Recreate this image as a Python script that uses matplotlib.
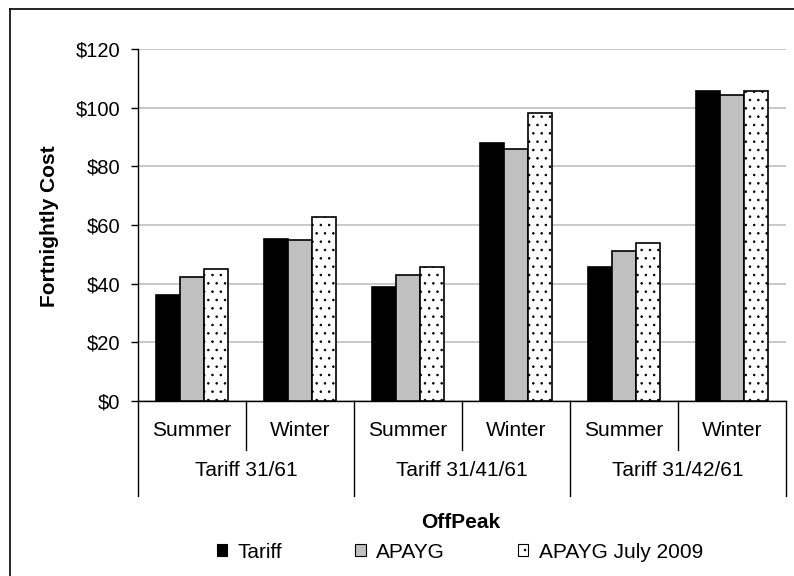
import matplotlib.pyplot as plt
import matplotlib.patches as mpatches
from matplotlib.lines import Line2D
import numpy as np

plt.rcParams['font.family'] = ['Liberation Sans', 'DejaVu Sans']
plt.rcParams['hatch.color'] = '#555555'
plt.rcParams['hatch.linewidth'] = 0.6

# 数据
seasons = ['Summer', 'Winter', 'Summer', 'Winter', 'Summer', 'Winter']
tariff_groups = ['Tariff 31/61', 'Tariff 31/41/61', 'Tariff 31/42/61']
tariff = [36.1, 55.2, 39.0, 88.1, 45.8, 105.8]
apayg = [42.2, 55.0, 43.1, 85.8, 51.0, 104.3]
apayg_july = [44.9, 62.6, 45.8, 98.1, 53.8, 105.8]
series_names = ['Tariff', 'APAYG', 'APAYG July 2009']
yticks = [0, 20, 40, 60, 80, 100, 120]

fs = 15
fig = plt.figure(figsize=(7.94, 5.76), dpi=100)
ax = fig.add_axes([138 / 794, 1 - 401 / 576, 648 / 794, 352 / 576])

x = np.arange(len(seasons)) + 0.5
w = 0.224
ax.bar(x - w, tariff, w, color='black', edgecolor='black', linewidth=1.2, zorder=3)
ax.bar(x, apayg, w, color='#C0C0C0', edgecolor='black', linewidth=1.2, zorder=3)
ax.bar(x + w, apayg_july, w, color='white', edgecolor='black', linewidth=1.2,
       hatch='..', zorder=3)

ax.set_xlim(0, len(seasons))
ax.set_ylim(0, 120)
ax.set_yticks(yticks)
ax.set_yticklabels([f'${v}' for v in yticks], fontsize=14.5)
ax.yaxis.grid(True, color='#C0C0C0', linewidth=1.2, zorder=0)
ax.tick_params(axis='y', length=5, width=1, pad=8)
ax.set_xticks([])
for s in ['top', 'right']:
    ax.spines[s].set_visible(False)
ax.spines['left'].set_linewidth(1)
ax.spines['bottom'].set_linewidth(1)

fig.text(50 / 794, 1 - 226 / 576, 'Fortnightly Cost', rotation=90, ha='center',
         va='center', fontsize=fs, fontweight='bold')

# 分层的x轴
trans = ax.get_xaxis_transform()
inner = -49 / 352
outer = -95 / 352
for i in range(len(seasons) + 1):
    bottom = outer if i % 2 == 0 else inner
    ax.add_line(Line2D([i, i], [0, bottom], transform=trans, color='black',
                       linewidth=1, clip_on=False))
for i, s in enumerate(seasons):
    ax.text(i + 0.5, -30 / 352, s, transform=trans, ha='center', va='center',
            fontsize=fs)
for i, g in enumerate(tariff_groups):
    ax.text(2 * i + 1, -70 / 352, g, transform=trans, ha='center', va='center',
            fontsize=fs)

fig.text(461 / 794, 1 - 522 / 576, 'OffPeak', ha='center', va='center',
         fontsize=fs, fontweight='bold')

# 图例
handles = [
    mpatches.Patch(facecolor='black', edgecolor='black', linewidth=0.8),
    mpatches.Patch(facecolor='#C0C0C0', edgecolor='black', linewidth=0.8),
    mpatches.Patch(facecolor='white', edgecolor='black', linewidth=0.8, hatch='..'),
]
fig.legend(handles, series_names, loc='center left', bbox_to_anchor=(217 / 794, 1 - 552 / 576),
           ncol=3, frameon=False, fontsize=fs, handlelength=0.5, handleheight=0.5,
           handletextpad=0.5, columnspacing=3.5, borderpad=0, borderaxespad=0)

# 外框
fig.add_artist(Line2D([10 / 794, 10 / 794], [0, 1 - 9 / 576], color='black', linewidth=1.2))
fig.add_artist(Line2D([10 / 794, 1], [1 - 9 / 576, 1 - 9 / 576], color='black', linewidth=1.2))

fig.savefig('out.png', dpi=100)
